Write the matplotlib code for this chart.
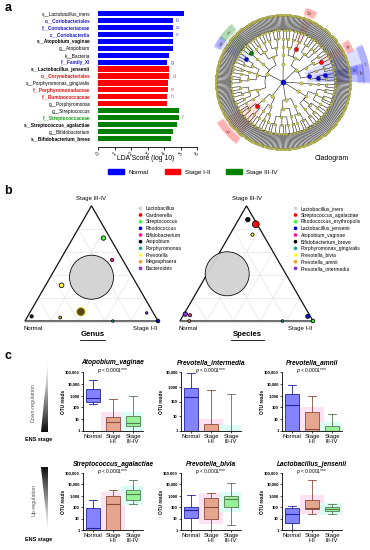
import numpy as np
import matplotlib
matplotlib.use("Agg")
import matplotlib.pyplot as plt
from matplotlib.collections import LineCollection
from matplotlib.lines import Line2D
from matplotlib.patches import Patch, Polygon, Rectangle, Wedge
from matplotlib.ticker import NullLocator

plt.rcParams["font.family"] = ["Liberation Sans", "DejaVu Sans"]
plt.rcParams["axes.linewidth"] = 0.6

W, H = 370, 550

# ---------------- panel a: LDA scores ----------------
lda_labels = [
    "s__Lactobacillus_iners", "o__Coriobacteriales", "f__Coriobacteriaceae",
    "c__Coriobacteriia", "s__Atopobium_vaginae", "g__Atopobium", "k__Bacteria",
    "f__Family_XI", "s__Lactobacillus_jensenii", "o__Corynebacteriales",
    "s__Porphyromonas_gingivalis", "f__Porphyromonadaceae", "f__Ruminococcaceae",
    "g__Porphyromonas", "g__Streptococcus", "f__Streptococcaceae",
    "s__Streptococcus_agalactiae", "g__Bifidobacterium", "s__Bifidobacterium_breve",
]
lda_scores = [5.22, 4.53, 4.53, 4.53, 4.52, 4.52, 4.33, 4.2, 4.33, 4.33,
              4.23, 4.23, 4.2, 4.17, 4.88, 4.88, 4.8, 4.53, 4.43]
lda_groups = ["Normal"] * 8 + ["Stage I-II"] * 6 + ["Stage III-IV"] * 5
lda_letters = ["", "b", "a", "c", "", "", "", "g", "", "d",
               "", "e", "h", "", "", "f", "", "", ""]
lda_bold = [False, True, True, True, True, False, False, True, True, True,
            False, True, True, False, False, True, True, False, True]
lda_colored = [False, True, True, True, False, False, False, True, False, True,
               False, True, True, False, False, True, False, False, False]

GROUPS = ["Normal", "Stage I-II", "Stage III-IV"]
BAR_COLORS = {"Normal": "#0000ff", "Stage I-II": "#ff0000", "Stage III-IV": "#008000"}
TEXT_COLORS = {"Normal": "#1a1ad0", "Stage I-II": "#e01010", "Stage III-IV": "#139a13"}

# ---------------- cladogram tree (children per parent, by level) ----------------
phylum_classes = [3, 1, 4, 2, 2, 1, 1]
class_orders = [2, 1, 3, 1, 2, 1, 3, 2, 1, 2, 2, 1, 3, 1]
order_families = [2, 1, 2, 3, 1, 2, 1, 2, 3, 1, 2, 1, 2, 3, 1,
                  2, 1, 2, 3, 1, 2, 1, 2, 3, 1]
family_genera = [2, 1, 3, 2, 2] * 9
genus_species = [4, 2, 5, 3, 2, 6, 3, 4, 2, 5] * 9

# highlighted clades: (level, angle deg, group, letter)
clade_marks = [
    ("class", 8, "Normal", "c"),
    ("order", 8, "Normal", "b"),
    ("family", 8, "Normal", "a"),
    ("family", 152, "Normal", "g"),
    ("order", 69, "Stage I-II", "d"),
    ("family", 31, "Stage I-II", "e"),
    ("order", 229, "Stage I-II", "h"),
    ("family", 139, "Stage III-IV", "f"),
]

# ---------------- panel b: ternary ----------------
genus_names = ["Lactobacillus", "Gardnerella", "Streptococcus", "Rhodococcus",
               "Bifidobacterium", "Atopobium", "Porphyromonas", "Prevotella",
               "Megasphaera", "Bacteroides"]
genus_normal = [0.31, 0.54, 0.05, 0.0, 0.08, 0.93, 0.34, 0.57, 0.72, 0.05]
genus_stage12 = [0.31, 0.38, 0.23, 1.0, 0.39, 0.03, 0.66, 0.12, 0.25, 0.88]
genus_stage34 = [0.38, 0.08, 0.72, 0.0, 0.53, 0.04, 0.0, 0.31, 0.03, 0.07]
genus_bubble = [22, 4.2, 2.2, 1.8, 1.6, 1.6, 1.2, 2.3, 1.4, 1.2]

species_names = ["Lactobacillus_iners", "Streptococcus_agalactiae",
                 "Rhodococcus_erythropolis", "Lactobacillus_jensenii",
                 "Atopobium_vaginae", "Bifidobacterium_breve",
                 "Porphyromonas_gingivalis", "Prevotella_bivia",
                 "Prevotella_amnii", "Prevotella_intermedia"]
species_normal = [0.44, 0.01, 0.0, 0.02, 0.9, 0.05, 0.23, 0.08, 0.93, 0.93]
species_stage12 = [0.15, 0.15, 1.0, 0.94, 0.05, 0.07, 0.77, 0.17, 0.07, 0.01]
species_stage34 = [0.41, 0.84, 0.0, 0.04, 0.05, 0.88, 0.0, 0.75, 0.0, 0.06]
species_bubble = [22, 3.4, 1.8, 2.0, 1.6, 2.2, 1.3, 1.6, 1.4, 2.2]

TAXA_COLORS = ["#d2d2d2", "#ff0000", "#33ff33", "#0000e0", "#ff1493",
               "#000000", "#1fa59a", "#ffff33", "#f5a030", "#8a2be2"]

# ---------------- panel c: OTU read boxplots (whislo, q1, med, q3, whishi) ----------------
box_taxa = ["Atopobium_vaginae", "Prevotella_intermedia", "Prevotella_amnii",
            "Streptococcus_agalactiae", "Prevotella_bivia", "Lactobacillus_jensenii"]
box_top = [1e5, 1e4, 1e5, 1e5, 1e5, 1e5]
atopobium_stats = [(200, 280, 650, 3500, 20000), (1, 1, 6, 15, 500), (1, 2.5, 5, 17, 1000)]
intermedia_stats = [(1, 1, 200, 800, 9000), (1, 1, 1, 2.8, 600), (1, 1, 1, 1, 300)]
amnii_stats = [(1, 1, 150, 1300, 8000), (1, 1, 1.5, 40, 900), (1, 1, 1, 2.5, 30)]
agalactiae_stats = [(1, 1, 1.5, 80, 400), (1, 1, 200, 950, 3500), (200, 400, 1400, 3000, 26000)]
bivia_stats = [(1, 12, 55, 100, 1100), (1, 9, 100, 700, 1600), (3, 100, 500, 950, 12000)]
jensenii_stats = [(1, 4, 25, 80, 120), (25, 65, 80, 450, 25000), (28, 48, 70, 100, 200)]
box_stats = [atopobium_stats, intermedia_stats, amnii_stats,
             agalactiae_stats, bivia_stats, jensenii_stats]
box_xlabels = ["Normal", "Stage\nI-II", "Stage\nIII-IV"]
BOX_FACE = ["#8383ff", "#e6a58f", "#98f098"]
BOX_EDGE = ["#22229a", "#8a4c3c", "#557a55"]


def px_axes(fig, x0, y0, x1, y1):
    return fig.add_axes([x0 / W, 1 - y1 / H, (x1 - x0) / W, (y1 - y0) / H])


def draw_lda(fig):
    ax = px_axes(fig, 98, 8, 197, 147)
    y = np.arange(len(lda_labels))
    ax.barh(y, lda_scores, height=0.74, color=[BAR_COLORS[g] for g in lda_groups])
    ax.set_xlim(0, 6)
    ax.set_ylim(19.22, -0.79)
    ax.set_yticks(y, lda_labels)
    for lab, bold, colored, g in zip(ax.get_yticklabels(), lda_bold, lda_colored, lda_groups):
        lab.set_fontweight("bold" if bold else "normal")
        lab.set_color(TEXT_COLORS[g] if colored else "black")
    ax.tick_params(axis="y", length=0, pad=5.5, labelsize=3.4)
    ax.set_xticks(range(7))
    ax.tick_params(axis="x", labelsize=3.6, length=2, width=0.6, pad=1, labelrotation=45)
    for side in ("top", "right", "left"):
        ax.spines[side].set_visible(False)
    for yi, score, letter, g in zip(y, lda_scores, lda_letters, lda_groups):
        if letter:
            ax.text(score + 0.2, yi, letter, fontsize=3.8, va="center",
                    color=BAR_COLORS[g], alpha=0.7)

    fig.text(146 / W, 1 - 158 / H, "LDA Score (log 10)", ha="center", va="center", fontsize=4.9)
    fig.text(332 / W, 1 - 158 / H, "Cladogram", ha="center", va="center", fontsize=5)
    handles = [Patch(color=BAR_COLORS[g], label=g) for g in GROUPS]
    fig.legend(handles=handles, loc="center", bbox_to_anchor=(193 / W, 1 - 172 / H),
               ncol=3, frameon=False, fontsize=4.5, handlelength=2.5, handleheight=0.9,
               columnspacing=2.6, handletextpad=0.7)


def group_ranges(ranges, counts):
    out, i = [], 0
    for c in counts:
        out.append((ranges[i][0], ranges[i + c - 1][1]))
        i += c
    return out


def draw_cladogram(fig):
    ax = px_axes(fig, 195, -6, 371, 170)
    ax.set_xlim(-88, 88)
    ax.set_ylim(-88, 88)
    ax.axis("off")

    n_leaf = sum(genus_species)
    step = 360.0 / n_leaf
    start = 0.0
    species_r = [(i, i) for i in range(n_leaf)]
    genus_r = group_ranges(species_r, genus_species)
    family_r = group_ranges(genus_r, family_genera)
    order_r = group_ranges(family_r, order_families)
    class_r = group_ranges(order_r, class_orders)
    phylum_r = group_ranges(class_r, phylum_classes)
    levels = [phylum_r, class_r, order_r, family_r, genus_r, species_r]
    level_names = ["phylum", "class", "order", "family", "genus", "species"]
    radii = [18, 27, 35, 43, 52, 67]
    node_s = [6, 5, 4.2, 3.6, 3.0, 2.2]

    def ang(rng):
        return start + ((rng[0] + rng[1]) / 2 + 0.5) * step

    def pol(r, a):
        t = np.deg2rad(a)
        return r * np.cos(t), r * np.sin(t)

    segs = []
    for p in phylum_r:
        segs.append([(0, 0), pol(radii[0], ang(p))])
    for lvl in range(len(levels) - 1):
        rp, rc = radii[lvl], radii[lvl + 1]
        for c in levels[lvl + 1]:
            p = next(q for q in levels[lvl] if q[0] <= c[0] <= q[1])
            a0, a1 = ang(p), ang(c)
            arc = np.linspace(a0, a1, max(2, int(abs(a1 - a0)) + 2))
            segs.append([pol(rp, a) for a in arc])
            segs.append([pol(rp, a1), pol(rc, a1)])
    ax.add_collection(LineCollection(segs, colors="#1a1a1a", linewidths=0.4, zorder=2))

    # highlighted clades
    prev = None
    for k, (lvl_name, target, grp, letter) in enumerate(clade_marks):
        lvl = level_names.index(lvl_name)
        cands = levels[lvl]
        if prev is not None and prev[0] < lvl and k > 0 and clade_marks[k - 1][1] == target:
            cands = [c for c in cands if prev[1][0] <= c[0] <= prev[1][1]] or cands
        node = min(cands, key=lambda c: abs((ang(c) - target + 180) % 360 - 180))
        prev = (lvl, node)
        a1 = start + node[0] * step
        a2 = start + (node[1] + 1) * step
        r_lab = {"a": 72, "b": 78, "c": 84}.get(letter, 74)
        ax.add_patch(Wedge((0, 0), r_lab + 3.5, a1, a2, width=r_lab + 3.5 - radii[lvl] + 3,
                           facecolor=BAR_COLORS[grp], alpha=0.13, lw=0, zorder=1))
        ax.add_patch(Wedge((0, 0), r_lab + 3.5, a1 - 1, a2 + 1, width=7,
                           facecolor=BAR_COLORS[grp], alpha=0.2, lw=0, zorder=1))
        am = (a1 + a2) / 2
        rot = am if -90 <= ((am + 180) % 360 - 180) <= 90 else am - 180
        ax.text(*pol(r_lab, am), letter, fontsize=3.4, ha="center", va="center",
                rotation=rot, color="#333333", zorder=5)
        x, y = pol(radii[lvl], ang(node))
        ax.scatter([x], [y], s=9, color=BAR_COLORS[grp], edgecolor="#333333",
                   linewidth=0.3, zorder=4)

    for lvl, (nodes, r) in enumerate(zip(levels, radii)):
        pts = np.array([pol(r, ang(n)) for n in nodes])
        ax.scatter(pts[:, 0], pts[:, 1], s=node_s[lvl], color="#cccc55",
                   edgecolor="#74742a", linewidth=0.25, zorder=3)
    ax.scatter([0], [0], s=14, color="#0000ff", edgecolor="#222222", linewidth=0.3, zorder=4)


SQ = np.sqrt(3) / 2


def tern_xy(a, b, c):
    a, b, c = map(np.asarray, (a, b, c))
    tot = a + b + c
    return (b + 0.5 * c) / tot, SQ * c / tot


def draw_ternary(fig, x_left, names, normal, stage12, stage34, bubble, title, leg_x):
    side = 133.0
    ax = px_axes(fig, x_left - 0.15 * side, 321 - 0.98 * side, x_left + 1.15 * side, 321 + 0.12 * side)
    ax.set_xlim(-0.15, 1.15)
    ax.set_ylim(-0.12, 0.98)
    ax.axis("off")
    for k in (0.2, 0.4, 0.6, 0.8):
        for p0, p1 in (((1 - k, 0, k), (0, 1 - k, k)),
                       ((k, 1 - k, 0), (k, 0, 1 - k)),
                       ((1 - k, k, 0), (0, k, 1 - k))):
            xs, ys = tern_xy(*zip(p0, p1))
            ax.plot(xs, ys, color="#e9e9e9", lw=0.6, zorder=0)
    ax.add_patch(Polygon([(0, 0), (1, 0), (0.5, SQ)], closed=True, fill=False,
                         edgecolor="#111111", lw=0.9, zorder=1))
    ax.plot([0, 1], [0, 0], color="#777777", lw=1.0, zorder=1)

    xs, ys = tern_xy(normal, stage12, stage34)
    sizes = [(2 * r * 0.72) ** 2 for r in bubble]
    colors = list(TAXA_COLORS)
    edges = ["none"] * len(colors)
    if title == "Genus":
        colors[1], edges[1] = "#4f3f0e", "#d9cf25"
        colors[8] = "#bdb53a"
    ax.scatter(xs, ys, s=sizes, c=colors, edgecolors=edges, linewidths=0.6,
               alpha=0.95, zorder=2)

    ax.text(0.5, SQ + 0.055, "Stage III-IV", ha="center", va="center", fontsize=4.3)
    ax.text(-0.01, -0.055, "Normal", ha="left", va="center", fontsize=4.3)
    ax.text(0.995, -0.055, "Stage I-II", ha="right", va="center", fontsize=4.3)
    cx = x_left + side / 2 + 1
    fig.text(cx / W, 1 - 335 / H, title, ha="center", va="center", fontsize=5.6,
             fontweight="bold")
    half = 5.6 * 1.39 * len(title) * 0.31
    fig.add_artist(Line2D([(cx - half) / W, (cx + half) / W], [1 - 339.5 / H] * 2,
                          color="black", lw=0.6))

    lax = px_axes(fig, leg_x, 205, leg_x + 78, 271.7)
    lax.set_xlim(0, 78)
    lax.set_ylim(9.5, -0.5)
    lax.axis("off")
    rows = np.arange(len(names))
    lax.scatter(np.full(len(names), 4.5), rows, s=7, c=TAXA_COLORS, edgecolors="none")
    for r, name in zip(rows, names):
        lax.text(9.5, r, name, fontsize=3.6, va="center", ha="left")


def draw_gradient(fig, x0, y0, x1, y1, down):
    ax = px_axes(fig, x0, y0, x1, y1)
    grad = np.linspace(0, 1, 100).reshape(-1, 1)
    if not down:
        grad = grad[::-1]
    im = ax.imshow(grad, cmap="Greys", aspect="auto", extent=(0, 1, 1, 0),
                   vmin=-0.05, vmax=1.05)
    verts = [(1, 0), (1, 1), (0, 1)] if down else [(0, 0), (1, 0), (1, 1)]
    clip = Polygon(verts, closed=True, transform=ax.transData, facecolor="none", edgecolor="none")
    ax.add_patch(clip)
    im.set_clip_path(clip)
    ax.set_xlim(0, 1)
    ax.set_ylim(1, 0)
    ax.axis("off")


def fmt_tick(v):
    return f"{int(v):,}"


def draw_boxes(fig):
    col_x = [83, 181, 282]
    row_y = [(372, 431), (473, 530)]
    for i, (taxon, stats, top) in enumerate(zip(box_taxa, box_stats, box_top)):
        r, c = divmod(i, 3)
        y0, y1 = row_y[r]
        ax = px_axes(fig, col_x[c], y0, col_x[c] + 60, y1)
        bstats = [dict(whislo=s[0], q1=s[1], med=s[2], q3=s[3], whishi=s[4]) for s in stats]
        for pos, s in zip((2, 3), stats[1:]):
            lo, hi = max(1.0, s[1] / 2.5), min(top, s[3] * 2.5)
            if hi > 1.5:
                ax.add_patch(Rectangle((pos - 0.62, lo), 1.24, hi - lo, lw=0, zorder=0,
                                       facecolor="#fde3f1" if pos == 2 else "#dcfbf5"))
        art = ax.bxp(bstats, positions=[1, 2, 3], widths=0.72, patch_artist=True,
                     showfliers=False, manage_ticks=False)
        for k in range(3):
            art["boxes"][k].set(facecolor=BOX_FACE[k], edgecolor=BOX_EDGE[k], linewidth=0.6)
            art["medians"][k].set(color=BOX_EDGE[k], linewidth=0.8)
            for part in ("whiskers", "caps"):
                for ln in art[part][2 * k:2 * k + 2]:
                    ln.set(color=BOX_EDGE[k], linewidth=0.6)
        ax.set_yscale("log")
        ax.set_ylim(1, top)
        ax.set_xlim(0.5, 3.5)
        ticks = [10.0 ** e for e in range(int(np.log10(top)) + 1)]
        ax.set_yticks(ticks, [fmt_tick(t) for t in ticks])
        ax.yaxis.set_minor_locator(NullLocator())
        ax.tick_params(axis="y", labelsize=3.0, length=1.5, width=0.5, pad=0.8)
        for lab in ax.get_yticklabels():
            lab.set_fontweight("bold")
        ax.set_xticks([1, 2, 3], box_xlabels)
        ax.tick_params(axis="x", labelsize=4.2, length=1.5, width=0.5, pad=1)
        for lab in ax.get_xticklabels():
            lab.set_linespacing(0.95)
        for side in ("top", "right"):
            ax.spines[side].set_visible(False)
        ax.set_ylabel("OTU reads", fontsize=3.4, fontweight="bold")
        ax.yaxis.set_label_coords(-17 / 60, 0.5)
        ax.text(0.5, 1 + 9 / (y1 - y0), taxon, transform=ax.transAxes, ha="center",
                va="center", fontsize=4.8, fontweight="bold", style="italic")
        ax.text(0.5, 1 + 1.2 / (y1 - y0), r"$p$ < 0.0001***", transform=ax.transAxes,
                ha="center", va="center", fontsize=3.5)

    draw_gradient(fig, 41, 361, 48, 432, down=True)
    draw_gradient(fig, 41, 467, 48, 533, down=False)
    fig.text(33 / W, 1 - 403 / H, "Down-regulation", rotation=90, ha="center", va="center",
             fontsize=3.8, color="#555555")
    fig.text(34 / W, 1 - 500 / H, "Up-regulation", rotation=90, ha="center", va="center",
             fontsize=3.8, color="#555555")
    for yy in (440, 539):
        fig.text(38.5 / W, 1 - yy / H, "ENS stage", ha="center", va="center",
                 fontsize=4.0, fontweight="bold")


def main() -> None:
    fig = plt.figure(figsize=(W / 100, H / 100), dpi=100)
    draw_lda(fig)
    draw_cladogram(fig)
    draw_ternary(fig, 25, genus_names, genus_normal, genus_stage12, genus_stage34,
                 genus_bubble, "Genus", 136)
    draw_ternary(fig, 180, species_names, species_normal, species_stage12, species_stage34,
                 species_bubble, "Species", 291)
    draw_boxes(fig)
    for letter, x, y in (("a", 8, 8), ("b", 8, 191), ("c", 8, 356)):
        fig.text(x / W, 1 - y / H, letter, fontsize=9, fontweight="bold",
                 ha="center", va="center")
    fig.savefig("out.png", dpi=100)
    plt.close(fig)


if __name__ == "__main__":
    main()
